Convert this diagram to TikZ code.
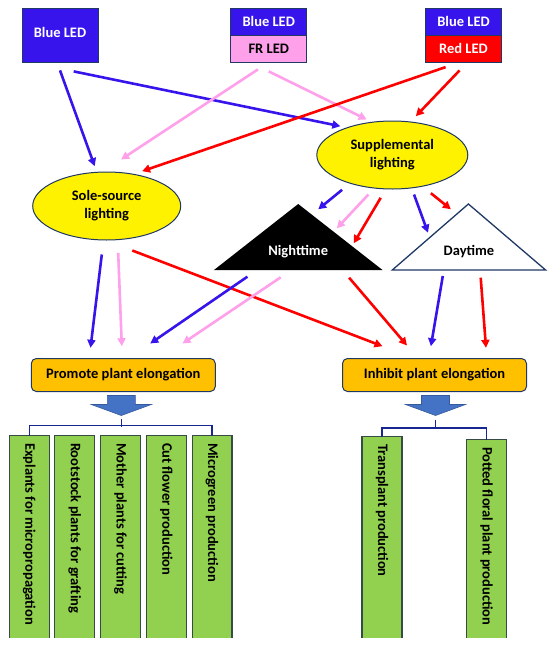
\documentclass[tikz,border=0pt]{standalone}
\usepackage{fontspec}
\setmainfont{Carlito}
\usetikzlibrary{arrows.meta,calc}
\definecolor{ledblue}{RGB}{55,20,235}
\definecolor{ledpink}{RGB}{255,160,235}
\definecolor{ledred}{RGB}{255,0,0}
\definecolor{navy}{RGB}{31,56,100}
\definecolor{orng}{RGB}{255,192,0}
\definecolor{leaf}{RGB}{146,208,80}
\definecolor{boxline}{RGB}{55,75,70}
\definecolor{barrow}{RGB}{68,114,196}
\usetikzlibrary{shapes.geometric}
\begin{document}
\begin{tikzpicture}[x=1pt,y=-1pt,>={Triangle[length=8pt,width=8pt]},
  every node/.style={font=\fontsize{14.5}{18}\selectfont\bfseries},
  led/.style={draw=navy,line width=0.8pt,minimum width=76pt,inner sep=0pt},
  oval/.style={ellipse,draw=navy,line width=1pt,fill=yellow,inner sep=0pt,align=center},
  goal/.style={rectangle,rounded corners=5pt,draw=navy,line width=1pt,fill=orng,minimum width=184pt,minimum height=33pt},
  bl/.style={->,line width=2.6pt,ledblue},
  pk/.style={->,line width=2.6pt,ledpink},
  rd/.style={->,line width=2.6pt,ledred},
  appbox/.style={fill=leaf,minimum width=39.5pt,minimum height=202pt,inner sep=0pt},
  apptext/.style={rotate=-90,anchor=west,inner sep=0pt},
  brk/.style={draw=navy!70!blue,line width=1.3pt}]
\useasboundingbox (0,0) rectangle (550,645);
\node[led,fill=ledblue,text=white,minimum height=54pt] (b1) at (60,35) {\raisebox{5pt}{Blue LED}};
\node[led,fill=ledblue,text=white,minimum height=27pt] (b2t) at (268.75,21.5) {Blue LED};
\node[led,fill=ledpink,minimum height=27pt] (b2b) at (268.75,48.5) {FR LED};
\node[led,fill=ledblue,text=white,minimum height=27pt] (b3t) at (463.5,21.5) {Blue LED};
\node[led,fill=ledred,text=white,minimum height=27pt] (b3b) at (463.5,48.5) {Red LED};
\node[oval,minimum width=151pt,minimum height=68pt] (supp) at (392.3,155) {Supplemental\\lighting};
\node[oval,minimum width=148pt,minimum height=68pt] (sole) at (106.7,206) {Sole-source\\lighting};
\coordinate (nT) at (298.2,204);
\coordinate (nL) at (214,270);
\coordinate (nR) at (382.5,270);
\fill[black] (nT) -- (nR) -- (nL) -- cycle;
\node[text=white] (night) at (298.2,252) {Nighttime};
\coordinate (dT) at (468.4,204);
\coordinate (dL) at (392.3,270);
\coordinate (dR) at (545.6,270);
\draw[navy,line width=1.3pt,fill=white] (dT) -- (dR) -- (dL) -- cycle;
\node (day) at (469,252) {Daytime};
\node[goal] (prom) at (123.3,375) {Promote plant elongation};
\node[goal] (inh) at (434.5,375) {Inhibit plant elongation};
\draw[bl] ($(b1.south)+(0,8)$) -- ($(sole.north)+(-12,-5.3)$);
\draw[bl] ($(b1.south)+(13.7,9)$) -- ($(supp.north)+(-51.9,5.7)$);
\draw[pk] ($(b2b.south)+(-10.8,7)$) -- ($(sole.north)+(14.3,-12)$);
\draw[pk] ($(b2b.south)+(0,9)$) -- ($(supp.north)+(-25.6,-1)$);
\draw[rd] ($(b3b.south)+(-17.9,4.7)$) -- ($(sole.north)+(35.4,-0.3)$);
\draw[rd] ($(b3b.south)+(-3.9,8)$) -- ($(supp.north)+(23.5,-4.3)$);
\draw[bl] ($(supp.south)+(-50.2,0.3)$) -- ($(nT)+(20,5.3)$);
\draw[pk] ($(supp.south)+(-23.9,5)$) -- ($(nT)+(38.6,24.3)$);
\draw[rd] ($(supp.south)+(-11.6,8.3)$) -- ($(nT)+(55.5,39.3)$);
\draw[bl] ($(supp.south)+(21.7,5)$) -- ($(dT)+(-40.4,28.7)$);
\draw[rd] ($(supp.south)+(38.6,3.7)$) -- ($(dT)+(-17.5,5.3)$);
\draw[bl] ($(sole.south)+(-4.9,14)$) -- ($(prom.north)+(-32.8,-10.2)$);
\draw[pk] ($(sole.south)+(11.5,12.3)$) -- ($(prom.north)+(-1.5,-11.8)$);
\draw[rd] ($(sole.south)+(25.6,10)$) -- ($(inh.north)+(-52,-11.8)$);
\draw[bl] ($(nL)+(33.4,6.7)$) -- ($(prom.north)+(26.9,-14.5)$);
\draw[pk] ($(nL)+(66.7,7.3)$) -- ($(prom.north)+(59.2,-14.5)$);
\draw[rd] ($(nL)+(135.1,7.7)$) -- ($(inh.north)+(-27.5,-12.5)$);
\draw[bl] ($(dL)+(50.5,6)$) -- ($(inh.north)+(-3.6,-11.8)$);
\draw[rd] ($(dL)+(88.4,7.7)$) -- ($(inh.north)+(51.5,-10.2)$);
\coordinate (pa) at ($(prom.south)+(-2,23.5)$);
\coordinate (ia) at ($(inh.south)+(1,23.5)$);
\foreach \t in {pa,ia}
  \draw[fill=barrow,draw=barrow!80!black,line width=0.6pt] (\t) -- ++(-30,-11) -- ++(16,0) -- ++(0,-9) -- ++(28,0) -- ++(0,9) -- ++(16,0) -- cycle;
\foreach \i/\x/\t in {1/29.3/Explants for micropropagation,2/74.8/Rootstock plants for grafting,3/120.5/Mother plants for cutting,4/166.3/Cut flower production,5/212.1/Microgreen production}{
  \node[appbox] (g\i) at (\x,537) {};
  \node[apptext] at ([yshift=-7pt]g\i.north) {\t};
  \draw[boxline,line width=1.2pt] (g\i.south west) |- (g\i.north east) -- (g\i.south east);
}
\node[appbox,minimum height=201pt] (h1) at (382,537.5) {};
\node[appbox,minimum height=198pt] (h2) at (486.5,539) {};
\node[apptext] at ([yshift=-7pt]h1.north) {Transplant production};
\node[apptext] at ([yshift=-7pt]h2.north) {Potted floral plant production};
\foreach \i in {h1,h2}
  \draw[boxline,line width=1.2pt] (\i.south west) |- (\i.north east) -- (\i.south east);
\draw[brk] ([yshift=-3pt]pa) -- ++(0,8);
\draw[brk] (g1.north) -- ++(0,-10) -| (g5.north);
\draw[brk] ([yshift=-4pt]ia) -- ++(0,9.3);
\draw[brk] (h1.north) -- ++(0,-8.7) -| (h2.north);
\end{tikzpicture}
\end{document}
